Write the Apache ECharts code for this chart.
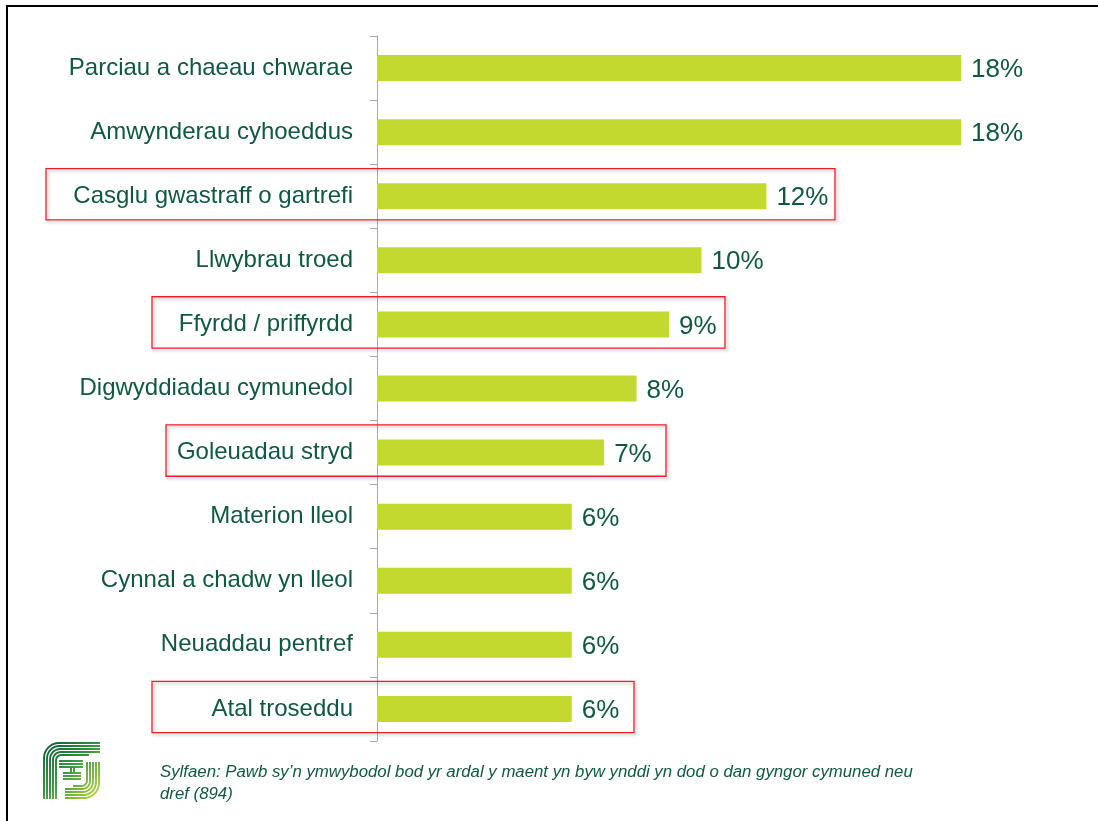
<!DOCTYPE html>
<html>
<head>
<meta charset="utf-8">
<script src="https://cdn.jsdelivr.net/npm/echarts@6/dist/echarts.min.js"></script>
<style>
  html, body { margin: 0; padding: 0; background: #fff; }
  #chart { width: 1098px; height: 821px; }
</style>
</head>
<body>
<div id="chart"></div>
<script>
const categories = [
    'Parciau a chaeau chwarae',
    'Amwynderau cyhoeddus',
    'Casglu gwastraff o gartrefi',
    'Llwybrau troed',
    'Ffyrdd / priffyrdd',
    'Digwyddiadau cymunedol',
    'Goleuadau stryd',
    'Materion lleol',
    'Cynnal a chadw yn lleol',
    'Neuaddau pentref',
    'Atal troseddu'
];
const values = [18, 18, 12, 10, 9, 8, 7, 6, 6, 6, 6];

// rows boxed in red in the original (left / right edges in px)
const highlighted = ['Casglu gwastraff o gartrefi', 'Ffyrdd / priffyrdd', 'Goleuadau stryd', 'Atal troseddu'];
const boxEdges = [[46, 835], [152, 725], [166, 666], [152, 634]];

const footnote = 'Sylfaen: Pawb sy\u2019n ymwybodol bod yr ardal y maent yn byw ynddi yn dod o dan gyngor cymuned neu\ndref (894)';

const textColor = '#0f5842';
const barColor = '#c3d92f';
const font = '"Liberation Sans", Arial, sans-serif';

const chart = echarts.init(document.getElementById('chart'));

chart.setOption({
    animation: false,
    grid: {
        left: 377,
        top: 36,
        width: 649,
        height: 705
    },
    xAxis: {
        type: 'value',
        min: 0,
        max: 20,
        show: false
    },
    yAxis: {
        type: 'category',
        inverse: true,
        data: categories,
        axisLine: { lineStyle: { color: '#a8a8a8', width: 1 } },
        axisTick: { show: true, length: 7, lineStyle: { color: '#a8a8a8' } },
        axisLabel: {
            margin: 24,
            fontSize: 24,
            fontFamily: font,
            color: textColor,
            padding: [4, 0, 0, 0]
        },
        splitLine: { show: false }
    },
    series: [
        {
            type: 'bar',
            data: values,
            barWidth: 26,
            itemStyle: { color: barColor },
            label: {
                show: true,
                position: 'right',
                distance: 10,
                offset: [0, 2],
                formatter: '{c}%',
                fontSize: 26,
                fontFamily: font,
                color: textColor
            }
        }
    ]
});

// logo drawn with concentric strokes: F on the left, J on the right
function corner(cx, cy, r, a0, a1) {
    const pts = [];
    for (let k = 0; k <= 8; k++) {
        const a = a0 + (a1 - a0) * k / 8;
        pts.push([cx + r * Math.cos(a), cy + r * Math.sin(a)]);
    }
    return pts;
}

function logoLines() {
    const lines = [];
    const gap = 3;
    for (let i = 0; i < 5; i++) {
        const d = 1 + i * gap;
        const r = 15 - i * 2.4;
        // F: up the left side, round the top-left corner, along the top
        lines.push([[d, 57]].concat(corner(d + r, d + r, r, Math.PI, Math.PI * 1.5), [[i < 4 ? 57 : 46, d]]));
        // J: down the right side, round the bottom-right corner, along the bottom
        const e = 56 - i * gap;
        lines.push([[e, 20]].concat(corner(e - r, e - r, r, 0, Math.PI * 0.5), [[i < 4 ? 22 : 30, e]]));
    }
    // inner F crossbar and middle I
    for (let i = 0; i < 3; i++) {
        lines.push([[16, 19 + i * gap], [40, 19 + i * gap]]);
        lines.push([[20, 31 + i * gap], [38, 31 + i * gap]]);
    }
    lines.push([[28, 25], [28, 31]]);
    lines.push([[31, 25], [31, 31]]);
    return lines.map(pts => ({
        type: 'polyline',
        shape: { points: pts },
        style: {
            fill: null,
            lineWidth: 1.9,
            stroke: {
                type: 'linear', x: 0, y: 0, x2: 57, y2: 57, global: true,
                colorStops: [
                    { offset: 0, color: '#0a5a34' },
                    { offset: 0.45, color: '#2e8f3e' },
                    { offset: 1, color: '#c8dc3a' }
                ]
            }
        }
    }));
}

function drawExtras() {
    const band = chart.convertToPixel({ yAxisIndex: 0 }, categories[1]) - chart.convertToPixel({ yAxisIndex: 0 }, categories[0]);
    const boxes = highlighted.map((name, i) => {
        const cy = chart.convertToPixel({ yAxisIndex: 0 }, name) - 2;
        const h = band * 0.8;
        return {
            type: 'rect',
            shape: { x: boxEdges[i][0], y: cy - h / 2, width: boxEdges[i][1] - boxEdges[i][0], height: h },
            style: {
                fill: null,
                stroke: '#ee1c25',
                lineWidth: 1.3,
                shadowBlur: 3,
                shadowOffsetX: 2,
                shadowOffsetY: 2,
                shadowColor: 'rgba(0,0,0,0.25)'
            },
            z: 10
        };
    });

    chart.setOption({
        graphic: [
            {
                type: 'polyline',
                shape: { points: [[7, 830], [7, 6], [1110, 6]] },
                style: { stroke: '#000', lineWidth: 2, fill: null }
            },
            {
                type: 'group',
                x: 43,
                y: 742,
                children: logoLines()
            },
            {
                type: 'text',
                x: 160,
                y: 761,
                style: {
                    text: footnote,
                    font: 'italic 16.8px ' + font,
                    fill: textColor,
                    lineHeight: 22
                }
            }
        ].concat(boxes)
    });
}

drawExtras();
</script>
</body>
</html>
